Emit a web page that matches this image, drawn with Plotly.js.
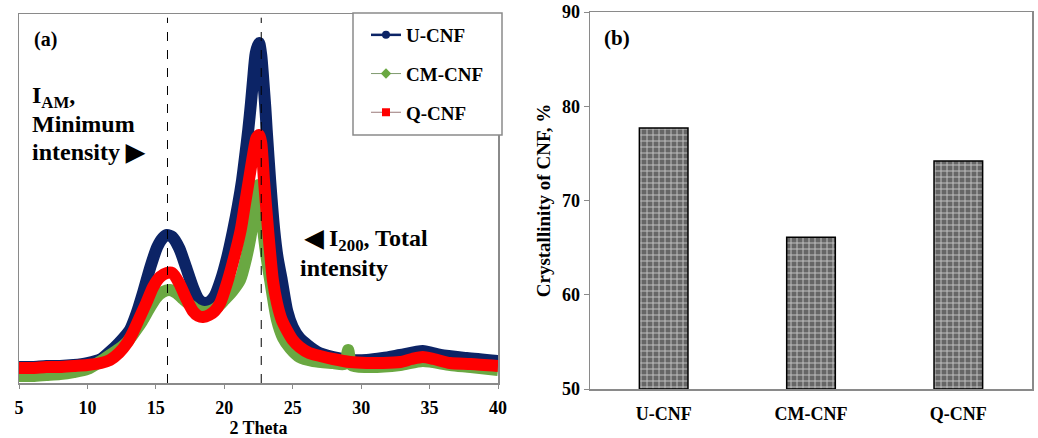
<!DOCTYPE html>
<html>
<head>
<meta charset="utf-8">
<script src="https://cdn.plot.ly/plotly-3.0.1.min.js"></script>
<style>html,body{margin:0;padding:0;background:#fff;}#chart{width:1038px;height:438px;}</style>
</head>
<body>
<div id="chart"></div>
<script>
// ---------- Panel (a): XRD patterns (2 Theta vs intensity, arbitrary units) ----------
const thetaU = [5,6,7,8,9,10,11,11.7,12.3,13.1,13.6,14.1,14.6,15.1,15.5,15.8,16.2,16.7,17.2,17.7,18.1,18.45,18.9,19.3,19.75,20.2,20.65,21.0,21.3,21.55,21.75,21.95,22.1,22.3,22.54,22.7,22.85,23.0,23.1,23.35,23.65,23.9,24.2,24.6,25.0,25.5,26.8,27.95,29.2,30.4,31.6,32.85,34.5,35.8,37.7,40];
const intU   = [16,16,17,17,18,20,24,32,40,53,70,92,116,136,145,148,146,135,116,96,84,80,81,87,103,125,153,178,203,230,253,280,303,330,340,328,303,275,253,203,153,125,103,72,56,45,31,26,23,23,25,28,32,28,25,22];

const thetaQ = [5,6,7,8,9,10,11,11.65,12.3,12.9,13.3,13.8,14.3,14.8,15.3,15.8,16.2,16.7,17.2,17.7,18.1,18.45,18.9,19.3,19.7,20.2,20.65,21.2,21.5,21.8,22.1,22.35,22.54,22.7,22.9,23.2,23.55,23.85,24.2,24.6,25.0,25.5,26.2,27.0,27.95,29.2,30.4,31.6,32.85,33.7,34.5,35.3,36.5,38,40];
const intQ   = [15,15,16,16,17,18,20,23,30,40,50,65,80,96,106,110,110,100,85,72,67,66,68,72,80,100,122,153,178,203,228,245,248,240,203,153,103,80,63,52,43,36,30,27,24,21,20,20,21,24,26,24,20,19,17];

const thetaCM = [5,6,7,8,9,10,11,11.65,12.3,12.9,13.5,14,14.5,15,15.5,16,16.5,17,17.5,18,18.5,19,19.5,20,20.6,21.15,21.6,22,22.3,22.5,22.7,22.85,23.1,23.35,23.85,24.3,24.8,25.5,26.5,27.95,28.8,29.05,29.3,30.4,32.85,34.5,36.5,38,40];
const intCM   = [7,7,8,9,11,14,22,28,34,41,52,62,74,85,91,93,90,84,78,73,71,72,76,83,92,103,125,153,185,198,185,153,125,103,63,45,35,26,22,20,19,33,18,16,18,22,18,16,13];

const seriesNames = ['U-CNF','CM-CNF','Q-CNF'];
const seriesColors = ['#0c2466','#6aa842','#ff0000'];
const refLines = [15.85, 22.7];   // I_AM and I_200 positions (2 Theta)

// ---------- Panel (b): crystallinity ----------
const samples = ['U-CNF','CM-CNF','Q-CNF'];
const crystallinity = [77.7, 66.1, 74.2];

const FONT = 'Liberation Serif';
const GRAY = '#8a8a8a';

const curves = [
  {x: thetaU, y: intU, c: 0},
  {x: thetaCM, y: intCM, c: 1},
  {x: thetaQ, y: intQ, c: 2}
];

const traces = [];
curves.forEach(s => {
  traces.push({
    type: 'scatter', mode: 'lines', x: s.x, y: s.y, xaxis: 'x', yaxis: 'y',
    line: {color: seriesColors[s.c], width: 12, shape: 'spline', smoothing: 0.7},
    showlegend: false, hoverinfo: 'skip'
  });
});
// legend entries
const legSymbols = ['circle','diamond','square'];
const legLineW = [2.5, 1, 1];
const legLineC = ['#0c2466','#7f9a70','#9a7a7a'];
seriesNames.forEach((n, i) => {
  traces.push({
    type: 'scatter', mode: 'lines+markers', x: [null], y: [null], xaxis: 'x', yaxis: 'y',
    name: n, legendgroup: 'g' + i,
    line: {color: legLineC[i], width: legLineW[i]},
    marker: {symbol: legSymbols[i], size: 8, color: seriesColors[i]}
  });
});

traces.push({
  type: 'bar', x: samples, y: crystallinity.map(v => v - 50), base: 50,
  xaxis: 'x2', yaxis: 'y2', showlegend: false, hoverinfo: 'skip',
  marker: {
    color: '#646464',
    line: {color: '#000', width: 1.5},
    pattern: {shape: '+', fillmode: 'replace', bgcolor: '#666666', fgcolor: '#c2c2c2', size: 6, solidity: 0.3}
  }
});

const W = 1038, H = 438;
const px = v => v / W, py = v => 1 - v / H;

const annFont = {family: FONT, size: 24, color: '#000', weight: 'bold'};
const layout = {
  width: W, height: H,
  margin: {l: 0, r: 0, t: 0, b: 0},
  paper_bgcolor: '#fff', plot_bgcolor: '#fff',
  font: {family: FONT, size: 18, color: '#000', weight: 'bold'},
  showlegend: true,
  legend: {
    x: px(366), y: py(16), xanchor: 'left', yanchor: 'top',
    bgcolor: 'rgba(0,0,0,0)', borderwidth: 0,
    font: {family: FONT, size: 19, color: '#000', weight: 'bold'},
    traceorder: 'grouped', tracegroupgap: 11, itemwidth: 30
  },
  bargap: 0.67,
  xaxis: {
    domain: [px(19), px(498)], anchor: 'y', range: [5, 40], dtick: 5, tick0: 5,
    ticks: 'outside', ticklen: 4, tickcolor: GRAY, tickwidth: 1,
    showline: true, linecolor: GRAY, linewidth: 1.5, mirror: true,
    showgrid: false, zeroline: false, ticklabelstandoff: 4,
    tickfont: {family: FONT, size: 18, weight: 'bold'},
    title: {text: '2 Theta', font: {family: FONT, size: 18, weight: 'bold'}, standoff: 8}
  },
  yaxis: {
    domain: [1 - 383 / H, 1 - 14 / H], anchor: 'x', range: [0, 369],
    showticklabels: false, ticks: '', showline: true, linecolor: GRAY, linewidth: 1.5, mirror: true,
    showgrid: false, zeroline: false
  },
  xaxis2: {
    domain: [px(590), px(1032)], anchor: 'y2', type: 'category',
    ticks: '', showline: true, linecolor: GRAY, linewidth: 1.5, mirror: true,
    showgrid: false, zeroline: false,
    tickfont: {family: FONT, size: 18, weight: 'bold'}, ticklabelstandoff: 8
  },
  yaxis2: {
    domain: [1 - 389 / H, 1 - 12 / H], anchor: 'x2', range: [50, 90], dtick: 10, tick0: 50,
    ticks: 'outside', ticklen: 5, tickcolor: GRAY,
    showline: true, linecolor: GRAY, linewidth: 1.5, mirror: true,
    showgrid: false, zeroline: false,
    tickfont: {family: FONT, size: 18, weight: 'bold'},
    title: {text: 'Crystallinity of CNF, %', font: {family: FONT, size: 19, weight: 'bold'}, standoff: 6}
  },
  shapes: [
    ...refLines.map(v => ({
      type: 'line', xref: 'x', yref: 'y domain', x0: v, x1: v, y0: 0, y1: 0.99,
      line: {color: '#000', width: 1, dash: 'dash'}, layer: 'above'
    })),
    {type: 'rect', xref: 'paper', yref: 'paper', x0: px(353), x1: px(502), y0: py(135), y1: py(13),
     fillcolor: '#fff', line: {color: GRAY, width: 1.5}, layer: 'above'}
  ],
  annotations: [
    {text: '(a)', x: px(32), y: py(39), xref: 'paper', yref: 'paper', xanchor: 'left', yanchor: 'middle', showarrow: false, font: {family: FONT, size: 20, weight: 'bold'}},
    {text: 'I<sub>AM</sub>,', x: px(30), y: py(97), xref: 'paper', yref: 'paper', xanchor: 'left', yanchor: 'middle', showarrow: false, font: annFont},
    {text: 'Minimum', x: px(30), y: py(124), xref: 'paper', yref: 'paper', xanchor: 'left', yanchor: 'middle', showarrow: false, font: annFont},
    {text: 'intensity\u00a0\u25B6', x: px(30), y: py(152), xref: 'paper', yref: 'paper', xanchor: 'left', yanchor: 'middle', showarrow: false, font: annFont},
    {text: '\u25C0\u00a0I<sub>200</sub>, Total', x: px(302), y: py(240), xref: 'paper', yref: 'paper', xanchor: 'left', yanchor: 'middle', showarrow: false, font: annFont},
    {text: 'intensity', x: px(298), y: py(268), xref: 'paper', yref: 'paper', xanchor: 'left', yanchor: 'middle', showarrow: false, font: annFont},
    {text: '(b)', x: px(602), y: py(38), xref: 'paper', yref: 'paper', xanchor: 'left', yanchor: 'middle', showarrow: false, font: {family: FONT, size: 21, weight: 'bold'}}
  ]
};

Plotly.newPlot('chart', traces, layout, {staticPlot: true, displayModeBar: false});
</script>
</body>
</html>
